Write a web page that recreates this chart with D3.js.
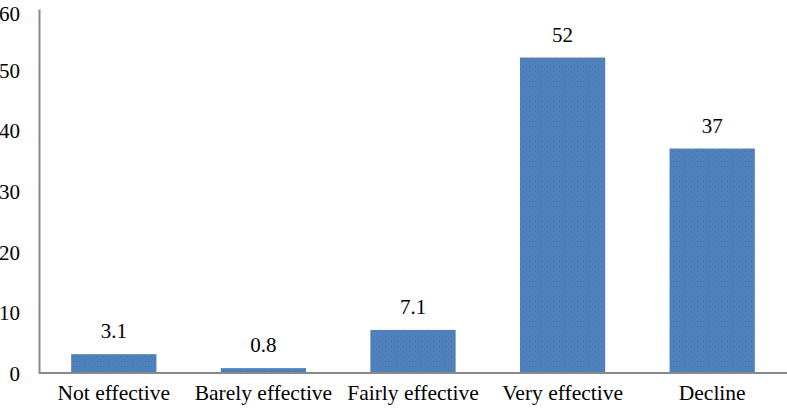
<!DOCTYPE html>
<html>
<head>
<meta charset="utf-8">
<script src="https://cdn.jsdelivr.net/npm/d3@7"></script>
<style>
  body { margin: 0; background: #fff; }
  text { font-family: "Liberation Serif", "Times New Roman", serif; fill: #000; }
</style>
</head>
<body>
<div id="chart"></div>
<script>
const categories = ["Not effective", "Barely effective", "Fairly effective", "Very effective", "Decline"];
const values = [3.1, 0.8, 7.1, 52, 37];
const valueLabels = ["3.1", "0.8", "7.1", "52", "37"];
const yTicks = [0, 10, 20, 30, 40, 50, 60];

const width = 787, height = 410;
const mLeft = 39, mRight = 787, mTop = 9, mBottom = 373;

var svg = d3.select("#chart").append("svg")
    .attr("width", width)
    .attr("height", height);

// dotted texture on the bars
var pat = svg.append("defs").append("pattern")
    .attr("id", "dots")
    .attr("patternUnits", "userSpaceOnUse")
    .attr("width", 6)
    .attr("height", 5);
pat.append("rect").attr("width", 6).attr("height", 5).attr("fill", "#4f81bd");
pat.append("circle").attr("cx", 1.5).attr("cy", 1.5).attr("r", 0.6).attr("fill", "#3d6ea8");
pat.append("circle").attr("cx", 4.5).attr("cy", 4).attr("r", 0.5).attr("fill", "#4574ad");

var x = d3.scaleBand()
    .domain(categories)
    .range([mLeft, mRight])
    .paddingInner(0.43)
    .paddingOuter(0.215);

var y = d3.scaleLinear()
    .domain([0, 60])
    .range([mBottom, mTop]);

// bars
svg.selectAll("rect.bar")
    .data(values)
    .enter()
    .append("rect")
    .attr("class", "bar")
    .attr("x", (d, i) => x(categories[i]))
    .attr("width", x.bandwidth())
    .attr("y", d => y(d))
    .attr("height", d => y(0) - y(d))
    .attr("fill", "url(#dots)");

// value labels
svg.selectAll("text.val")
    .data(values)
    .enter()
    .append("text")
    .attr("class", "val")
    .attr("x", (d, i) => x(categories[i]) + x.bandwidth() / 2)
    .attr("y", d => y(d) - 16)
    .attr("text-anchor", "middle")
    .style("font-size", "21px")
    .text((d, i) => valueLabels[i]);

// y axis
var yAxis = svg.append("g")
    .attr("transform", "translate(" + mLeft + ",0)")
    .call(d3.axisLeft(y).tickValues(yTicks).tickSize(0).tickPadding(19));
yAxis.select("path.domain").attr("stroke", "#898989").attr("stroke-width", 2);
yAxis.selectAll("text").style("font-size", "21px").attr("fill", "#000")
    .attr("dy", d => d == 60 ? "0.55em" : "0.36em")
    .style("font-family", "Liberation Serif, serif");

// x axis
var xAxis = svg.append("g")
    .attr("transform", "translate(0," + mBottom + ")")
    .call(d3.axisBottom(x).tickSize(0).tickPadding(12));
xAxis.select("path.domain").attr("stroke", "#898989").attr("stroke-width", 2)
    .attr("d", "M" + mLeft + ",0H" + mRight);
xAxis.selectAll("text").style("font-size", "21.5px").attr("fill", "#000")
    .style("font-family", "Liberation Serif, serif");
</script>
</body>
</html>
